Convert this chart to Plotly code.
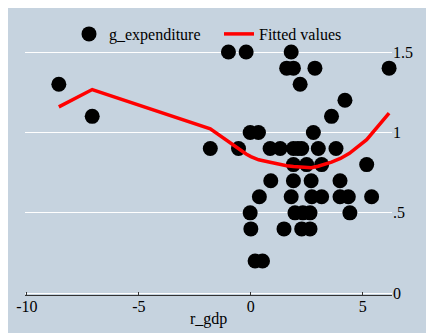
import plotly.graph_objects as go

# scatter data
r_gdp = [-8.57, -7.08, -1.81, -1.0, -0.21, -0.55, -0.03, 0.34, 2.79, 3.6, 4.2,
         1.8, 1.6, 1.9, 2.86, 6.17, 2.2,
         0.86, 1.31, 1.9, 2.1, 2.27, 3.01, 3.8,
         1.9, 2.49, 3.16, 5.17,
         0.89, 1.9, 2.69, 3.98,
         0.38, 1.8, 2.72, 3.16, 3.98, 4.35, 5.39,
         -0.03, 1.97, 2.32, 2.64, 4.42,
         0.0, 1.48, 2.27, 2.64,
         0.19, 0.52]
g_expenditure = [1.3, 1.1, 0.9, 1.5, 1.5, 0.9, 1.0, 1.0, 1.0, 1.1, 1.2,
                 1.5, 1.4, 1.4, 1.4, 1.4, 1.3,
                 0.9, 0.9, 0.9, 0.9, 0.9, 0.9, 0.9,
                 0.8, 0.8, 0.8, 0.8,
                 0.7, 0.7, 0.7, 0.7,
                 0.6, 0.6, 0.6, 0.6, 0.6, 0.6, 0.6,
                 0.5, 0.5, 0.5, 0.5, 0.5,
                 0.4, 0.4, 0.4, 0.4,
                 0.2, 0.2]

# fitted values
fit_x = [-8.57, -7.08, -1.81, -1.0, -0.55, -0.21, 0.0, 0.35, 0.86, 1.3, 1.6,
         1.9, 2.3, 2.7, 3.0, 3.6, 4.0, 4.4, 5.17, 5.39, 6.17]
fit_y = [1.159, 1.267, 1.022, 0.94, 0.896, 0.866, 0.85, 0.83, 0.815, 0.80, 0.793,
         0.788, 0.782, 0.781, 0.79, 0.815, 0.838, 0.87, 0.955, 0.99, 1.12]

x_ticks = [-10, -5, 0, 5]
x_ticktext = ["-10", "-5", "0", "5"]
y_ticks = [0, 0.5, 1, 1.5]
y_ticktext = ["0", ".5", "1", "1.5"]
x_title = "r_gdp"

BG = "#c6d3df"
FONT = "Liberation Serif, Times New Roman, serif"
# page body adds an 8px margin, so the figure is 8px smaller than the window
W, H = 426, 325
ML, MR, MT, MB = 17, 42, 0, 38
pw = W - ML - MR
ph = H - MT - MB

fig = go.Figure()
fig.add_trace(go.Scatter(x=r_gdp, y=g_expenditure, mode="markers", name="g_expenditure",
                         marker=dict(color="black", size=15, line=dict(width=0)),
                         cliponaxis=False))
fig.add_trace(go.Scatter(x=fit_x, y=fit_y, mode="lines", name="Fitted values",
                         line=dict(color="red", width=3.5), cliponaxis=False))

fig.add_annotation(text=x_title, xref="paper", yref="paper",
                   x=0.5, y=-(311 - (H - MB)) / ph, xanchor="center", yanchor="middle",
                   showarrow=False, font=dict(family=FONT, size=16))

fig.update_layout(
    width=W, height=H,
    margin=dict(l=ML, r=MR, t=MT, b=MB, autoexpand=False),
    paper_bgcolor=BG, plot_bgcolor=BG,
    font=dict(family=FONT, size=16, color="black"),
    showlegend=True,
    legend=dict(orientation="h", x=(61 - ML) / pw, xanchor="left",
                y=(ph + MT - 26) / ph, yanchor="middle", entrywidth=105,
                bgcolor="rgba(0,0,0,0)", font=dict(family=FONT, size=16)),
    xaxis=dict(range=[-10.08, 6.3], tickvals=x_ticks, ticktext=x_ticktext,
               ticks="inside", ticklen=3, automargin=False, ticklabelstandoff=-3,
               tickcolor="#333", showline=True, linecolor="#333", linewidth=1,
               showgrid=False, zeroline=False,
               tickfont=dict(family=FONT, size=16)),
    yaxis=dict(side="right", range=[-0.011, 1.774], tickvals=y_ticks, ticktext=y_ticktext,
               showgrid=True, gridcolor="white", gridwidth=1, zeroline=False,
               showline=False, ticks="", ticklabelstandoff=0, automargin=False,
               tickfont=dict(family=FONT, size=16)),
)

fig.write_html("out.html")
